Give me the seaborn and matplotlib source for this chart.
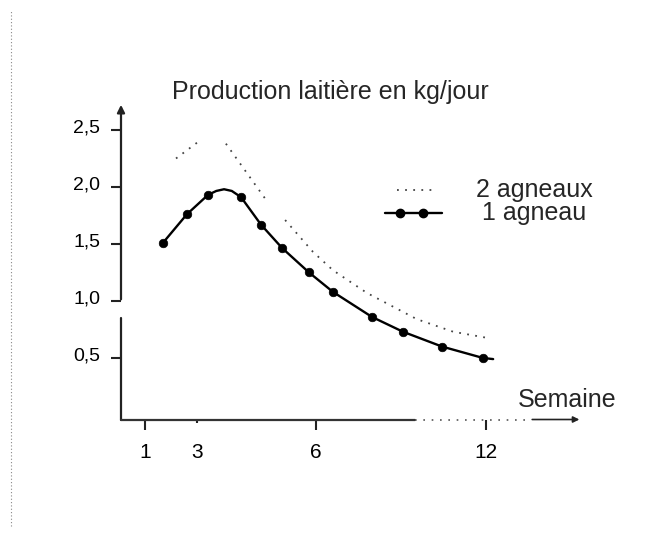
import pandas as pd
import matplotlib
matplotlib.use('Agg')
import matplotlib.pyplot as plt
from matplotlib.lines import Line2D
from matplotlib.transforms import ScaledTranslation
import seaborn as sns

# Positions along the (hand drawn, uneven) week axis and milk yield in kg/day
semaine_1 = [1.58, 2.35, 3.03, 3.30, 3.55, 3.80, 4.10, 4.74, 5.42, 6.29, 7.06, 8.32, 9.32, 10.58, 11.90, 12.23]
lait_1 = [1.51, 1.76, 1.93, 1.965, 1.98, 1.965, 1.91, 1.67, 1.465, 1.25, 1.08, 0.86, 0.73, 0.60, 0.50, 0.49]
point_1 = [True, True, True, False, False, False, True, True, True, True, True, True, True, True, True, False]

semaine_2 = [2.0, 2.71, 3.61, 4.87, 5.52, 6.42, 7.06, 8.16, 9.77, 10.94, 12.06]
lait_2 = [2.25, 2.395, 2.38, 1.90, 1.71, 1.43, 1.27, 1.07, 0.84, 0.73, 0.675]
troncon_2 = [0, 0, 1, 1, 2, 2, 2, 2, 2, 2, 2]

xtick_pos = [1, 2.69, 6.52, 12]
xtick_labels = ['1', '3', '6', '12']
ytick_vals = [0.5, 1.0, 1.5, 2.0, 2.5]
ytick_labels = ['0,5', '1,0', '1,5', '2,0', '2,5']
series_labels = ['2 agneaux', '1 agneau']

un = pd.DataFrame({'semaine': semaine_1, 'lait': lait_1, 'point': point_1})
deux = pd.DataFrame({'semaine': semaine_2, 'lait': lait_2, 'troncon': troncon_2})

sns.set_style('white')
plt.rcParams['font.family'] = ['Liberation Sans', 'DejaVu Sans']

W, H = 663, 537
fig = plt.figure(figsize=(W / 100, H / 100), dpi=100)
ax = fig.add_axes([0.1825, 0.2188, 0.7225, 0.595])
xlo, ylo = 0.226, -0.04
ax.set_xlim(xlo, 15.677)
ax.set_ylim(ylo, 2.763)

dotted = (0, (1, 3.5))
# 2 agneaux (dotted, with gaps as in the print)
sns.lineplot(data=deux, x='semaine', y='lait', units='troncon', estimator=None,
             color='#444444', lw=1.3, linestyle=dotted, ax=ax, legend=False)
# 1 agneau
sns.lineplot(data=un, x='semaine', y='lait', sort=False, color='black', lw=1.7, ax=ax, legend=False)
sns.scatterplot(data=un[un['point']], x='semaine', y='lait', color='black', s=38,
                edgecolor='black', ax=ax, legend=False, zorder=5)

for s in ax.spines.values():
    s.set_visible(False)

# axes drawn by hand: y axis with a break, x axis with dotted end and arrow
ytr = ax.get_yaxis_transform()
ax.plot([0, 0], [ylo, 0.85], color='#222222', lw=1.6, transform=ytr, clip_on=False)
ax.annotate('', xy=(0, 2.745), xytext=(0, 0.99), xycoords=ytr, textcoords=ytr,
            arrowprops=dict(arrowstyle='-|>', color='#222222', lw=1.6, mutation_scale=11))
ax.plot([xlo, 9.7], [ylo, ylo], color='#333333', lw=1.6, clip_on=False)
ax.plot([9.7, 13.4], [ylo, ylo], color='#555555', lw=1.2, linestyle=(0, (1, 4)), clip_on=False)
ax.annotate('', xy=(15.1, ylo), xytext=(13.4, ylo),
            arrowprops=dict(arrowstyle='-|>', color='#222222', lw=1.2, mutation_scale=9))

ax.set_xticks(xtick_pos)
ax.set_xticklabels(xtick_labels)
ax.set_yticks(ytick_vals)
ax.set_yticklabels(ytick_labels)
ax.tick_params(axis='both', which='major', direction='out', length=7, width=1.5,
               color='#222222', labelcolor='black', bottom=True, left=True)
ax.tick_params(axis='x', pad=10, labelsize=15)
ax.tick_params(axis='y', pad=8, labelsize=14)
ax.xaxis.get_major_ticks()[1].tick1line.set_markersize(2)
for lab in ax.get_yticklabels():
    lab.set_transform(lab.get_transform() + ScaledTranslation(0, 3 / 72, fig.dpi_scale_trans))
ax.set_xlabel('')
ax.set_ylabel('')

ax.text(13.03, 0.13, 'Semaine', fontsize=18, ha='left', va='center')
fig.text(330 / W, 1 - 92 / H, 'Production laitière en kg/jour', fontsize=18, ha='center', va='center')

# legend drawn like the print: short dotted handle, solid handle with two inset dots
fig.add_artist(Line2D([397 / W, 433 / W], [1 - 190 / H] * 2, color='#444444', lw=1.3, linestyle=dotted))
fig.add_artist(Line2D([385 / W, 442 / W], [1 - 213 / H] * 2, color='black', lw=1.7))
fig.add_artist(Line2D([400 / W, 423 / W], [1 - 213 / H] * 2, color='black', lw=0,
                      marker='o', markersize=6))
fig.text(476 / W, 1 - 190 / H, series_labels[0], fontsize=18, ha='left', va='center')
fig.text(482 / W, 1 - 213 / H, series_labels[1], fontsize=18, ha='left', va='center')

# faint dotted scan edge on the left
fig.add_artist(Line2D([0.016, 0.016], [0.02, 0.98], color='#888888', lw=0.8, linestyle=(0, (1, 2))))

fig.savefig('out.png', dpi=100)
